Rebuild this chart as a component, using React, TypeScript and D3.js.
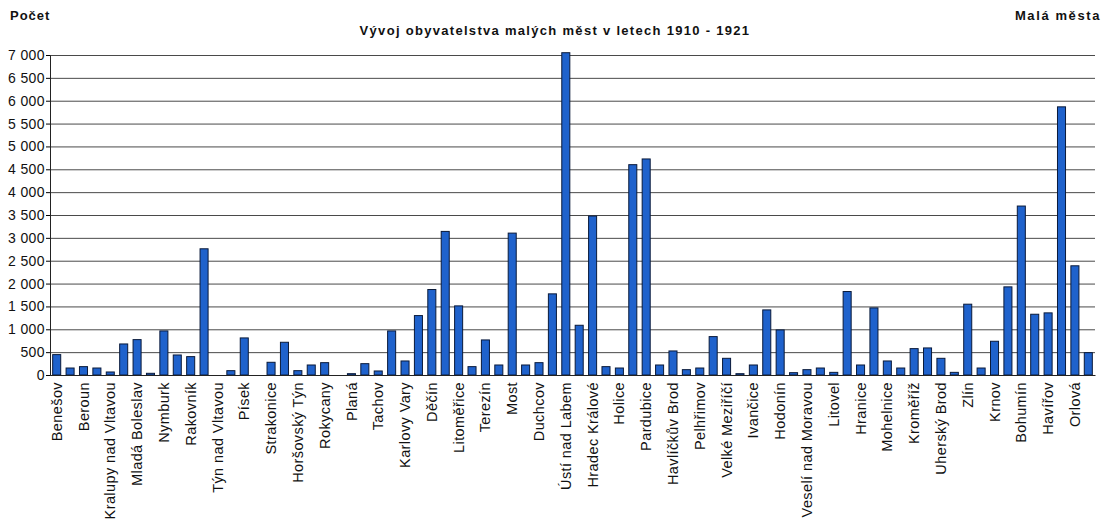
import React, { useEffect, useRef } from 'react'
import * as d3 from 'd3'

// mesta (kazde druhe ma popisek, ostatni jsou bez nazvu)
const towns = [
  'Benešov', '', 'Beroun', '', 'Kralupy nad Vltavou', '', 'Mladá Boleslav', '',
  'Nymburk', '', 'Rakovník', '', 'Týn nad Vltavou', '', 'Písek', '',
  'Strakonice', '', 'Horšovský Týn', '', 'Rokycany', '', 'Planá', '',
  'Tachov', '', 'Karlovy Vary', '', 'Děčín', '', 'Litoměřice', '',
  'Terezín', '', 'Most', '', 'Duchcov', '', 'Ústí nad Labem', '',
  'Hradec Králové', '', 'Holice', '', 'Pardubice', '', 'Havlíčkův Brod', '',
  'Pelhřimov', '', 'Velké Meziříčí', '', 'Ivančice', '', 'Hodonín', '',
  'Veselí nad Moravou', '', 'Litovel', '', 'Hranice', '', 'Mohelnice', '',
  'Kroměříž', '', 'Uherský Brod', '', 'Zlín', '', 'Krnov', '',
  'Bohumín', '', 'Havířov', '', 'Orlová', ''
]

const counts = [
  446, 153, 183, 153, 66, 679, 774, 37,
  964, 438, 402, 2761, 0, 95, 811, 0,
  278, 716, 95, 219, 270, 0, 29, 248,
  88, 964, 307, 1300, 1870, 3141, 1512, 183,
  767, 219, 3104, 219, 270, 1775, 7050, 1088,
  3477, 183, 153, 4601, 4726, 219, 526, 117,
  153, 840, 365, 29, 219, 1424, 986, 51,
  117, 153, 58, 1826, 219, 1468, 307, 153,
  577, 592, 365, 58, 1549, 153, 738, 1928,
  3696, 1329, 1359, 5866, 2389, 489
]

const yTicks = [0, 500, 1000, 1500, 2000, 2500, 3000, 3500, 4000, 4500, 5000, 5500, 6000, 6500, 7000]

export default function App() {
  const svgRef = useRef(null)

  const width = 1110
  const height = 524
  const margin = { top: 55, right: 15, bottom: 149, left: 50 }
  const innerWidth = width - margin.left - margin.right
  const innerHeight = height - margin.top - margin.bottom

  useEffect(() => {
    const svg = d3.select(svgRef.current)
    svg.selectAll('*').remove()

    const font = 'Liberation Sans, Arial, sans-serif'
    const ids = towns.map((t, i) => i)

    const xScale = d3.scaleBand()
      .domain(ids)
      .range([0, innerWidth])
      .paddingInner(0.4)
      .paddingOuter(0.2)

    const yScale = d3.scaleLinear()
      .domain([0, 7000])
      .range([innerHeight, 0])

    const g = svg.append('g')
      .attr('transform', `translate(${margin.left}, ${margin.top})`)

    // mrizka
    g.selectAll('.grid')
      .data(yTicks)
      .enter()
      .append('line')
      .attr('x1', 0)
      .attr('x2', innerWidth)
      .attr('y1', d => yScale(d) + 0.5)
      .attr('y2', d => yScale(d) + 0.5)
      .attr('stroke', '#4a4a4a')
      .attr('stroke-width', 1)

    const yAxis = d3.axisLeft(yScale)
      .tickValues(yTicks)
      .tickSize(4)
      .tickFormat(d => d3.format(',')(d).replace(',', ' '))

    const yAxisG = g.append('g').call(yAxis)
    yAxisG.select('.domain').attr('stroke', '#222')
    yAxisG.selectAll('text')
      .attr('font-family', font)
      .attr('font-size', 14)
      .attr('letter-spacing', 0.4)
      .attr('fill', '#111')
      .attr('x', -5)

    g.append('g')
      .selectAll('rect')
      .data(counts)
      .enter()
      .append('rect')
      .attr('x', (d, i) => xScale(i))
      .attr('y', d => yScale(d))
      .attr('width', xScale.bandwidth())
      .attr('height', d => innerHeight - yScale(d))
      .attr('fill', '#1f62cc')
      .attr('stroke', '#0a1a3a')
      .attr('stroke-width', 1)

    const xAxis = d3.axisBottom(xScale)
      .tickSize(0)
      .tickFormat(i => towns[i])

    const xAxisG = g.append('g')
      .attr('transform', `translate(0, ${innerHeight})`)
      .call(xAxis)
    xAxisG.select('.domain').attr('stroke', '#222')
    xAxisG.selectAll('text')
      .attr('font-family', font)
      .attr('font-size', 14.5)
      .attr('letter-spacing', 0.4)
      .attr('fill', '#111')
      .attr('transform', 'rotate(-90)')
      .attr('text-anchor', 'end')
      .attr('x', -7)
      .attr('y', 0)
      .attr('dy', '0.35em')

    svg.append('text')
      .attr('x', 555)
      .attr('y', 35)
      .attr('text-anchor', 'middle')
      .attr('font-family', font)
      .attr('font-weight', 'bold')
      .attr('font-size', 13)
      .attr('letter-spacing', 1.3)
      .attr('fill', '#111')
      .text('Vývoj obyvatelstva malých měst v letech 1910 - 1921')

    svg.append('text')
      .attr('x', 10)
      .attr('y', 20)
      .attr('font-family', font)
      .attr('font-weight', 'bold')
      .attr('font-size', 13)
      .attr('letter-spacing', 1)
      .attr('fill', '#111')
      .text('Počet')

    svg.append('text')
      .attr('x', 1101)
      .attr('y', 20)
      .attr('text-anchor', 'end')
      .attr('font-family', font)
      .attr('font-weight', 'bold')
      .attr('font-size', 13)
      .attr('letter-spacing', 1.6)
      .attr('fill', '#111')
      .text('Malá města')
  }, [])

  return (
    <svg ref={svgRef} width={width} height={height}
      style={{ position: 'absolute', left: 0, top: 0, background: '#fff' }} />
  )
}
